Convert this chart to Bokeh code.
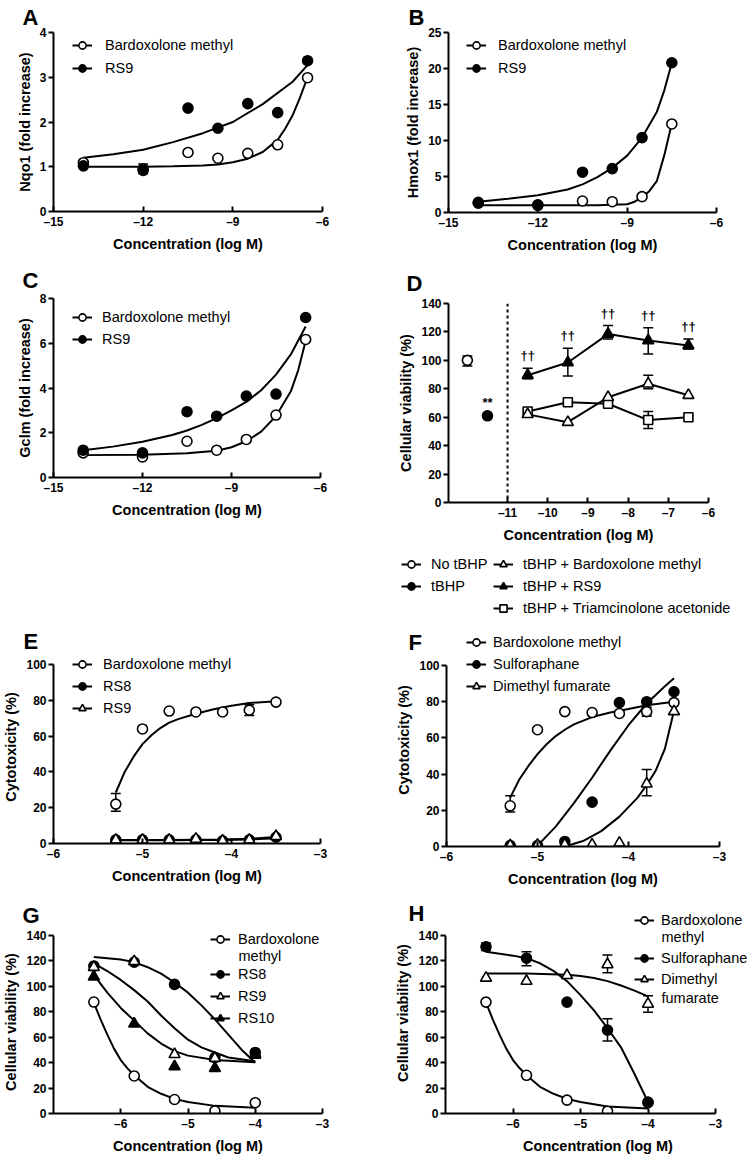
from bokeh.plotting import figure
from bokeh.layouts import column, row
from bokeh.models import (ColumnDataSource, Whisker, TeeHead, Legend, LegendItem,
                          Label, FixedTicker, Span)
from bokeh.embed import file_html
from bokeh.resources import INLINE
from bokeh.core.properties import value

FONT = "Liberation Sans"
DASH = "\u2013"

# ---------------- data ----------------
# Panel A (Nqo1)
a_x = [-14, -12, -10.5, -9.5, -8.5, -7.5, -6.5]
a_bard = [1.09, 0.95, 1.32, 1.19, 1.30, 1.49, 2.99]
a_rs9 = [1.02, 0.92, 2.31, 1.86, 2.41, 2.21, 3.37]
a_err_x, a_err_lo, a_err_hi = [-12], [0.85], [1.06]
a_bard_cx = [-14, -13, -12, -11, -10, -9.5, -9, -8.5, -8, -7.5, -7.25, -7, -6.75, -6.5]
a_bard_cy = [1.0, 1.0, 1.0, 1.01, 1.03, 1.05, 1.1, 1.18, 1.33, 1.6, 1.85, 2.15, 2.55, 3.0]
a_rs9_cx = [-14, -13, -12, -11, -10, -9, -8, -7, -6.5]
a_rs9_cy = [1.2, 1.28, 1.38, 1.55, 1.75, 2.0, 2.4, 2.9, 3.27]

# Panel B (Hmox1)
b_x = [-14, -12, -10.5, -9.5, -8.5, -7.5]
b_bard = [1.3, 1.0, 1.6, 1.5, 2.2, 12.3]
b_rs9 = [1.4, 1.06, 5.6, 6.1, 10.4, 20.8]
b_bard_cx = [-14, -12, -10, -9, -8.75, -8.5, -8.25, -8, -7.75, -7.5]
b_bard_cy = [1.0, 1.0, 1.0, 1.15, 1.5, 2.1, 3.0, 4.4, 8.0, 12.4]
b_rs9_cx = [-14, -13, -12, -11, -10.5, -10, -9.5, -9, -8.5, -8, -7.75, -7.5]
b_rs9_cy = [1.5, 1.9, 2.4, 3.2, 3.9, 4.9, 6.2, 7.9, 10.4, 14.0, 17.0, 20.8]

# Panel C (Gclm)
c_x = [-14, -12, -10.5, -9.5, -8.5, -7.5, -6.5]
c_bard = [1.1, 0.92, 1.62, 1.22, 1.70, 2.79, 6.17]
c_rs9 = [1.22, 1.1, 2.94, 2.74, 3.64, 3.73, 7.15]
c_bard_cx = [-14, -12, -10.5, -9.5, -9, -8.5, -8, -7.5, -7, -6.75, -6.5]
c_bard_cy = [1.0, 1.02, 1.08, 1.2, 1.35, 1.62, 2.05, 2.75, 3.85, 4.8, 6.1]
c_rs9_cx = [-14, -13, -12, -11, -10.5, -10, -9.5, -9, -8.5, -8, -7.5, -7, -6.5]
c_rs9_cy = [1.22, 1.38, 1.6, 1.9, 2.1, 2.35, 2.65, 3.0, 3.38, 3.9, 4.6, 5.5, 6.75]

# Panel D (cellular viability, tBHP)
d_cut = -11
d_ctrl_x, d_ctrl_y, d_ctrl_lo, d_ctrl_hi = [-12], [100], [96], [103]
d_tbhp_x, d_tbhp_y = [-11.5], [61]
d_x = [-10.5, -9.5, -8.5, -7.5, -6.5]
d_rs9 = [89.5, 98.5, 118.5, 114, 110.5]
d_rs9_lo = [87, 89, 115, 104.5, 108]
d_rs9_hi = [94.5, 108.5, 124.5, 123, 115]
d_bard = [62, 56.5, 74, 83.5, 75.5]
d_bard_err_x, d_bard_lo, d_bard_hi = [-7.5], [80], [89.5]
d_ta = [64, 70.5, 69.5, 58, 60]
d_ta_err_x, d_ta_lo, d_ta_hi = [-7.5], [52], [64]

# Panel E (cytotoxicity)
e_x = [-5.3, -5.0, -4.7, -4.4, -4.1, -3.8, -3.5]
e_bard = [22, 64, 74, 73.5, 73.5, 74.5, 79]
e_bard_err_x, e_bard_lo, e_bard_hi = [-5.3, -3.8], [18, 71.5], [28, 77.5]
e_rs8 = [2, 2, 2, 2, 1.5, 2, 3.5]
e_rs9 = [2, 2, 2, 2.5, 1.5, 2, 4]
e_bard_cx = [-5.3, -5.2, -5.1, -5.0, -4.9, -4.8, -4.7, -4.6, -4.4, -4.2, -4.0, -3.8, -3.5]
e_bard_cy = [28.5, 40, 48.5, 55.5, 60.5, 64.5, 67.5, 69.5, 72.5, 75, 77, 78.5, 79.5]
e_rs8_cx = [-5.3, -4.7, -4.4, -4.1, -3.8, -3.5]
e_rs8_cy = [1.8, 1.8, 1.9, 2.0, 2.3, 3.0]
e_rs9_cx = [-5.3, -4.7, -4.4, -4.1, -3.8, -3.5]
e_rs9_cy = [2.0, 2.0, 2.1, 2.2, 2.6, 3.6]

# Panel F (cytotoxicity, reference activators)
f_x = [-5.3, -5.0, -4.7, -4.4, -4.1, -3.8, -3.5]
f_bard = [22.5, 64.5, 74.5, 74, 73.5, 74.5, 79.5]
f_bard_err_x, f_bard_lo, f_bard_hi = [-5.3, -3.8], [19, 72], [28, 77]
f_sulf = [0.5, 0.5, 2.8, 24.5, 79.5, 80, 85.5]
f_dmf = [0.5, 0.8, 1, 1, 2, 34.6, 74.6]
f_dmf_err_x, f_dmf_lo, f_dmf_hi = [-3.8], [28], [42.5]
f_bard_cx = [-5.3, -5.2, -5.1, -5.0, -4.9, -4.8, -4.7, -4.6, -4.4, -4.2, -4.0, -3.8, -3.5]
f_bard_cy = [27, 37, 44.5, 51, 56.5, 61, 64.5, 67.5, 71.5, 74, 76, 78, 80]
f_sulf_cx = [-5.0, -4.8, -4.6, -4.4, -4.2, -4.0, -3.8, -3.6, -3.5]
f_sulf_cy = [0.5, 11, 24, 38, 53, 67, 79, 88.5, 93]
f_dmf_cx = [-4.7, -4.5, -4.3, -4.1, -3.9, -3.8, -3.7, -3.6, -3.5]
f_dmf_cy = [0, 3, 8.5, 16.5, 27, 34, 42, 54, 75]

# Panel G (cellular viability, RS compounds)
g_x = [-6.4, -5.8, -5.2, -4.6, -4.0]
g_bard = [87.6, 29.5, 11, 2, 8.5]
g_rs8 = [116, 119, 101.5, 44, 48]
g_rs9 = [115, 119.5, 46.5, 43.5, 47]
g_rs10 = [107.5, 70.5, 37, 35.5, 46]
g_bard_cx = [-6.4, -6.3, -6.2, -6.1, -6.0, -5.9, -5.8, -5.6, -5.4, -5.2, -5.0, -4.6, -4.0]
g_bard_cy = [87, 74, 62, 51, 42, 35.5, 30, 21, 15.5, 11.5, 9, 6, 4.6]
g_rs8_cx = [-6.4, -6.0, -5.8, -5.6, -5.4, -5.2, -5.0, -4.8, -4.6, -4.4, -4.2, -4.0]
g_rs8_cy = [123, 121, 119, 115, 110, 103, 95, 85, 74, 62, 50, 40]
g_rs9_cx = [-6.4, -6.2, -6.0, -5.8, -5.6, -5.4, -5.2, -5.0, -4.8, -4.6, -4.4, -4.0]
g_rs9_cy = [118, 112, 105, 97, 88, 77, 67, 58, 52, 48, 44, 41]
g_rs10_cx = [-6.4, -6.2, -6.0, -5.8, -5.6, -5.4, -5.2, -5.0, -4.6, -4.0]
g_rs10_cy = [109, 95, 83, 73, 63, 55, 49, 45.5, 42, 40.2]

# Panel H (cellular viability, reference activators)
h_x = [-6.4, -5.8, -5.2, -4.6, -4.0]
h_bard = [87.5, 30, 10.5, 1.8, 8.5]
h_sulf = [131, 122, 87.5, 65.5, 9]
h_sulf_err_x, h_sulf_lo, h_sulf_hi = [-6.4, -5.8, -4.6], [128, 116, 57], [134, 127, 74.5]
h_dmf = [106.5, 104, 108.5, 117, 86]
h_dmf_err_x, h_dmf_lo, h_dmf_hi = [-4.6, -4.0], [110.5, 79.5], [124.5, 92.5]
h_bard_cx = [-6.4, -6.3, -6.2, -6.1, -6.0, -5.9, -5.8, -5.6, -5.4, -5.2, -5.0, -4.6, -4.0]
h_bard_cy = [87, 74, 62, 51, 42, 35.5, 30, 21, 15.5, 11.5, 9, 5.5, 4]
h_sulf_cx = [-6.4, -6.0, -5.8, -5.6, -5.4, -5.2, -5.0, -4.8, -4.6, -4.4, -4.2, -4.0]
h_sulf_cy = [127, 124, 122, 118, 112, 104, 93, 81, 67, 52, 31, 9]
h_dmf_cx = [-6.4, -5.8, -5.2, -5.0, -4.8, -4.6, -4.4, -4.2, -4.0]
h_dmf_cy = [110, 110, 109, 108, 106.5, 104, 100.5, 96.5, 92]

XLAB = "Concentration (log M)"

# ---------------- helpers ----------------
def fmt(t):
    if t == 0:
        return "0"
    return (DASH + str(abs(t))) if t < 0 else str(t)


def make_panel(fig_box, frame_box, xr, yr, xticks, yticks, xlabel, ylabel,
               ext_top=None, ext_right=None):
    """frame_box = page box of the drawn axes; the plotting frame may be
    extended upward / rightward (invisible) so that legends are not clipped."""
    fx, fy, fw, fh = fig_box
    l, t, r, b = frame_box
    x0, x1 = xr
    y0, y1 = yr
    t2 = t if ext_top is None else ext_top
    r2 = r if ext_right is None else ext_right
    y1e = y1 + (t - t2) * (y1 - y0) / (b - t)
    x1e = x1 + (r2 - r) * (x1 - x0) / (r - l)
    p = figure(width=fw, height=fh, x_range=(x0, x1e), y_range=(y0, y1e),
               output_backend="svg", toolbar_location=None,
               min_border_left=l - fx, min_border_right=fx + fw - r2,
               min_border_top=t2 - fy, min_border_bottom=fy + fh - b)
    p.outline_line_color = None
    p.background_fill_color = "white"
    p.border_fill_color = "white"
    p.xgrid.visible = False
    p.ygrid.visible = False
    for ax in (p.xaxis[0], p.yaxis[0]):
        ax.axis_line_width = 2
        ax.axis_line_color = "black"
        ax.major_tick_line_width = 2
        ax.major_tick_line_color = "black"
        ax.minor_tick_line_color = None
        ax.major_label_text_font = FONT
        ax.major_label_text_font_size = "12px"
        ax.major_label_text_font_style = "bold"
        ax.major_label_text_color = "black"
        ax.axis_label_text_font = FONT
        ax.axis_label_text_font_style = "bold"
        ax.axis_label_text_font_size = "14.5px"
        ax.axis_label_text_color = "black"
    p.xaxis.bounds = (x0, x1)
    p.yaxis.bounds = (y0, y1)
    p.xaxis.ticker = FixedTicker(ticks=xticks)
    p.xaxis.major_label_overrides = {tk: fmt(tk) for tk in xticks}
    p.yaxis.ticker = FixedTicker(ticks=yticks)
    p.yaxis.major_label_overrides = {tk: fmt(tk) for tk in yticks}
    p.xaxis.major_tick_in = 5
    p.xaxis.major_tick_out = 0
    p.yaxis.major_tick_in = 0
    p.yaxis.major_tick_out = 5
    p.xaxis.major_label_standoff = 3
    p.xaxis.axis_label_standoff = 4
    p.yaxis.major_label_standoff = 2
    p.yaxis.axis_label_standoff = 4
    p.xaxis.axis_label = xlabel
    p.yaxis.axis_label = ylabel
    return p, (l, b)


def curve(p, x, y):
    return p.line(x, y, line_color="black", line_width=2)


def pts(p, x, y, marker, filled, size=10):
    return p.scatter(x, y, marker=marker, size=size,
                     fill_color="black" if filled else "white",
                     line_color="black", line_width=1.6)


def errbars(p, x, lo, hi):
    src = ColumnDataSource(dict(base=x, lower=lo, upper=hi))
    w = Whisker(source=src, base="base", lower="lower", upper="upper",
                dimension="height", line_color="black", line_width=1.5,
                upper_head=TeeHead(size=10, line_width=1.5, line_color="black"),
                lower_head=TeeHead(size=10, line_width=1.5, line_color="black"),
                level="underlay")
    p.add_layout(w)


GW = 20
GH = 18


def add_legend(p, frame, items, gcx, c1, pitch, standoff):
    fl, fb = frame
    n = len(items)
    bottom = c1 + (n - 1) * pitch + GH / 2
    vx = gcx - GW / 2 - fl
    vy = fb - bottom
    leg = Legend(items=[LegendItem(label=lab, renderers=rs) for lab, rs in items],
                 location=(vx, vy), orientation="vertical",
                 glyph_width=GW, glyph_height=GH, label_height=GH,
                 spacing=int(round(pitch - GH)), padding=0, margin=0,
                 label_standoff=standoff, border_line_color=None,
                 background_fill_alpha=0,
                 label_text_font=FONT, label_text_font_size="14.5px",
                 label_text_color="black")
    p.add_layout(leg, "center")


def add_text(p, frame, text, x_page, y_page, size="14.5px"):
    fl, fb = frame
    p.add_layout(Label(x=x_page - fl, y=fb - y_page, x_units="screen", y_units="screen",
                       text=text, text_font=FONT, text_font_size=size,
                       text_color="black", text_align="left", text_baseline="middle"))


def letter(p, frame, text, x_page, standoff):
    fl, fb = frame
    p.title.text = text
    p.title.align = "left"
    p.title.vertical_align = "bottom"
    p.title.offset = x_page - fl
    p.title.standoff = standoff
    p.title.text_font = FONT
    p.title.text_font_size = "22px"
    p.title.text_font_style = "bold"
    p.title.text_color = "black"


# ---------------- panel A ----------------
pA, fA = make_panel((0, 0, 376, 260), (53, 32, 322, 211), (-15, -6), (0, 4),
                    [-15, -12, -9, -6], [0, 1, 2, 3, 4], XLAB, "Nqo1 (fold increase)")
lb = curve(pA, a_bard_cx, a_bard_cy)
lr = curve(pA, a_rs9_cx, a_rs9_cy)
errbars(pA, a_err_x, a_err_lo, a_err_hi)
sb = pts(pA, a_x, a_bard, "circle", False)
sr = pts(pA, a_x, a_rs9, "circle", True)
add_legend(pA, fA, [("Bardoxolone methyl", [lb, sb]), ("RS9", [lr, sr])], 82, 45, 23, 13)
letter(pA, fA, "A", 22, 5)

# ---------------- panel B ----------------
pB, fB = make_panel((376, 0, 376, 260), (448, 32, 716, 212), (-15, -6), (0, 25),
                    [-15, -12, -9, -6], [0, 5, 10, 15, 20, 25], XLAB, "Hmox1 (fold increase)")
lb = curve(pB, b_bard_cx, b_bard_cy)
lr = curve(pB, b_rs9_cx, b_rs9_cy)
sb = pts(pB, b_x, b_bard, "circle", False)
sr = pts(pB, b_x, b_rs9, "circle", True)
add_legend(pB, fB, [("Bardoxolone methyl", [lb, sb]), ("RS9", [lr, sr])], 476, 45, 23, 12)
letter(pB, fB, "B", 408, 5)

# ---------------- panel C ----------------
pC, fC = make_panel((0, 260, 376, 360), (53, 298, 320, 477), (-15, -6), (0, 8),
                    [-15, -12, -9, -6], [0, 2, 4, 6, 8], XLAB, "Gclm (fold increase)")
lb = curve(pC, c_bard_cx, c_bard_cy)
lr = curve(pC, c_rs9_cx, c_rs9_cy)
sb = pts(pC, c_x, c_bard, "circle", False)
sr = pts(pC, c_x, c_rs9, "circle", True)
add_legend(pC, fC, [("Bardoxolone methyl", [lb, sb]), ("RS9", [lr, sr])], 82, 317, 22, 10)
letter(pC, fC, "C", 22, 11)

# ---------------- panel D ----------------
pD, fD = make_panel((376, 260, 376, 285), (448, 303, 708, 507), (-12.47, -6), (0, 140),
                    [-11, -10, -9, -8, -7, -6], list(range(0, 141, 20)), XLAB,
                    "Cellular viability (%)")
pD.add_layout(Span(location=d_cut, dimension="height", line_color="black",
                   line_width=2, line_dash="3 3"))
errbars(pD, d_ctrl_x, d_ctrl_lo, d_ctrl_hi)
errbars(pD, d_x, d_rs9_lo, d_rs9_hi)
errbars(pD, d_bard_err_x, d_bard_lo, d_bard_hi)
errbars(pD, d_ta_err_x, d_ta_lo, d_ta_hi)
curve(pD, d_x, d_ta)
curve(pD, d_x, d_bard)
curve(pD, d_x, d_rs9)
pts(pD, d_x, d_ta, "square", False, 9)
pts(pD, d_x, d_bard, "triangle", False, 11)
pts(pD, d_x, d_rs9, "triangle", True, 11)
pts(pD, d_ctrl_x, d_ctrl_y, "circle", False)
pts(pD, d_tbhp_x, d_tbhp_y, "circle", True)
pD.text(x=d_x, y=d_rs9_hi, text=["\u2020\u2020"] * len(d_x), text_font=value(FONT),
        text_font_size="13px", text_font_style="bold", text_align="center",
        text_baseline="bottom", y_offset=-5, text_color="black")
pD.text(x=d_tbhp_x, y=d_tbhp_y, text=["**"], text_font=value(FONT),
        text_font_size="13px", text_font_style="bold", text_align="center",
        text_baseline="bottom", y_offset=-6, text_color="black")
letter(pD, fD, "D", 406, 16)

# legend of panel D, in its own strip below the panel (its renderers hold the
# panel's data, which lies outside this strip's 0..1 ranges, so only the
# legend shows)
pDL = figure(width=376, height=75, x_range=(0, 1), y_range=(0, 1),
             x_axis_type=None, y_axis_type=None, output_backend="svg",
             toolbar_location=None, min_border=0)
pDL.outline_line_color = None
fDL = (376, 620)
lg_ct = [curve(pDL, d_ctrl_x * 2, d_ctrl_y * 2), pts(pDL, d_ctrl_x, d_ctrl_y, "circle", False)]
lg_tb = [curve(pDL, d_tbhp_x * 2, d_tbhp_y * 2), pts(pDL, d_tbhp_x, d_tbhp_y, "circle", True)]
lg_bd = [curve(pDL, d_x, d_bard), pts(pDL, d_x, d_bard, "triangle", False, 11)]
lg_r9 = [curve(pDL, d_x, d_rs9), pts(pDL, d_x, d_rs9, "triangle", True, 11)]
lg_ta = [curve(pDL, d_x, d_ta), pts(pDL, d_x, d_ta, "square", False, 9)]
add_legend(pDL, fDL, [("No tBHP", lg_ct), ("tBHP", lg_tb)], 411, 563, 22.5, 10)
add_legend(pDL, fDL, [("tBHP + Bardoxolone methyl", lg_bd),
                      ("tBHP + RS9", lg_r9),
                      ("tBHP + Triamcinolone acetonide", lg_ta)],
           503, 563, 22.5, 10)

# ---------------- panel E ----------------
pE, fE = make_panel((0, 620, 376, 270), (53, 664, 320, 843), (-6, -3), (0, 100),
                    [-6, -5, -4, -3], list(range(0, 101, 20)), XLAB, "Cytotoxicity (%)",
                    ext_top=650)
errbars(pE, e_bard_err_x, e_bard_lo, e_bard_hi)
lb = curve(pE, e_bard_cx, e_bard_cy)
l8 = curve(pE, e_rs8_cx, e_rs8_cy)
l9 = curve(pE, e_rs9_cx, e_rs9_cy)
sb = pts(pE, e_x, e_bard, "circle", False)
s8 = pts(pE, e_x, e_rs8, "circle", True)
s9 = pts(pE, e_x, e_rs9, "triangle", False, 11)
add_legend(pE, fE, [("Bardoxolone methyl", [lb, sb]), ("RS8", [l8, s8]), ("RS9", [l9, s9])],
           82, 665, 21.5, 11)
letter(pE, fE, "E", 23, -6)

# ---------------- panel F ----------------
pF, fF = make_panel((376, 620, 376, 270), (446, 665, 719, 846), (-6, -3), (0, 100),
                    [-6, -5, -4, -3], list(range(0, 101, 20)), XLAB, "Cytotoxicity (%)",
                    ext_top=633)
errbars(pF, f_bard_err_x, f_bard_lo, f_bard_hi)
errbars(pF, f_dmf_err_x, f_dmf_lo, f_dmf_hi)
lb = curve(pF, f_bard_cx, f_bard_cy)
ls = curve(pF, f_sulf_cx, f_sulf_cy)
ld = curve(pF, f_dmf_cx, f_dmf_cy)
ss = pts(pF, f_x, f_sulf, "circle", True)
sb = pts(pF, f_x, f_bard, "circle", False)
sd = pts(pF, f_x, f_dmf, "triangle", False, 11)
add_legend(pF, fF, [("Bardoxolone methyl", [lb, sb]), ("Sulforaphane", [ls, ss]),
                    ("Dimethyl fumarate", [ld, sd])], 476, 643, 21.5, 7)
letter(pF, fF, "F", 408, -42)

# ---------------- panel G ----------------
pG, fG = make_panel((0, 890, 376, 266), (53, 935, 322, 1116), (-7, -3), (0, 140),
                    [-6, -5, -4, -3], list(range(0, 141, 20)), XLAB, "Cellular viability (%)",
                    ext_top=930)
lb = curve(pG, g_bard_cx, g_bard_cy)
l8 = curve(pG, g_rs8_cx, g_rs8_cy)
l9 = curve(pG, g_rs9_cx, g_rs9_cy)
l10 = curve(pG, g_rs10_cx, g_rs10_cy)
sb = pts(pG, g_x, g_bard, "circle", False)
s8 = pts(pG, g_x, g_rs8, "circle", True)
s9 = pts(pG, g_x, g_rs9, "triangle", False, 11)
s10 = pts(pG, g_x, g_rs10, "triangle", True, 11)
add_legend(pG, fG, [("Bardoxolone", [lb, sb])], 220, 942, 21.5, 8)
add_text(pG, fG, "methyl", 238, 958)
add_legend(pG, fG, [("RS8", [l8, s8]), ("RS9", [l9, s9]), ("RS10", [l10, s10])],
           220, 978, 21.5, 8)
letter(pG, fG, "G", 22, 6)

# ---------------- panel H ----------------
pH, fH = make_panel((376, 890, 376, 266), (445, 935, 715, 1115), (-7, -3), (0, 140),
                    [-6, -5, -4, -3], list(range(0, 141, 20)), XLAB, "Cellular viability (%)",
                    ext_top=912, ext_right=750)
errbars(pH, h_sulf_err_x, h_sulf_lo, h_sulf_hi)
errbars(pH, h_dmf_err_x, h_dmf_lo, h_dmf_hi)
lb = curve(pH, h_bard_cx, h_bard_cy)
ls = curve(pH, h_sulf_cx, h_sulf_cy)
ld = curve(pH, h_dmf_cx, h_dmf_cy)
sb = pts(pH, h_x, h_bard, "circle", False)
ss = pts(pH, h_x, h_sulf, "circle", True)
sd = pts(pH, h_x, h_dmf, "triangle", False, 11)
add_legend(pH, fH, [("Bardoxolone", [lb, sb])], 644, 922, 21, 7)
add_text(pH, fH, "methyl", 661, 938)
add_legend(pH, fH, [("Sulforaphane", [ls, ss]), ("Dimethyl", [ld, sd])], 644, 960, 21, 7)
add_text(pH, fH, "fumarate", 661, 999)
letter(pH, fH, "H", 408, -26)

# each figure sits in its own sub-layout so that Bokeh does not align frames
layout = column(
    row(column(pA), column(pB)),
    row(column(pC), column(row(pD), row(pDL))),
    row(column(pE), column(pF)),
    row(column(pG), column(pH)),
)
open("out.html", "w").write(file_html(layout, INLINE))
